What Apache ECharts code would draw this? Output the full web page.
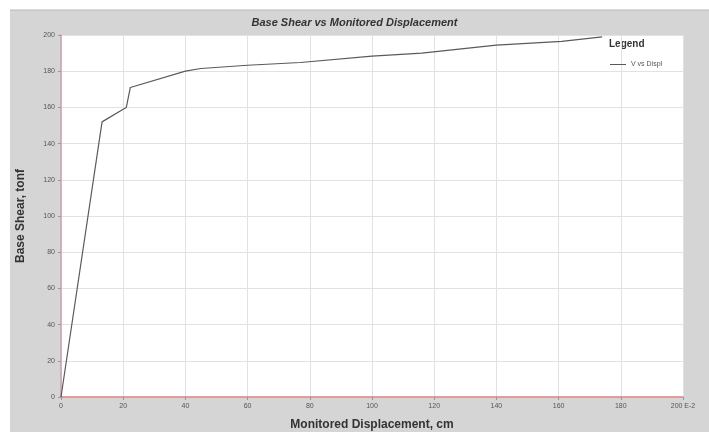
<!DOCTYPE html>
<html>
<head>
<meta charset="utf-8">
<script src="https://cdn.jsdelivr.net/npm/echarts@6/dist/echarts.min.js"></script>
<style>
html,body{margin:0;padding:0;background:#ffffff;}
#c{width:709px;height:432px;}
</style>
</head>
<body>
<div id="c"></div>
<script>
var title = "Base Shear vs Monitored Displacement";
var xName = "Monitored Displacement, cm";
var yName = "Base Shear, tonf";
var seriesName = "V vs Displ";
var displacement = [0, 13.2, 20, 21, 22.3, 40, 45, 60, 77, 77.5, 100, 116, 140, 161, 174];
var baseShear   = [0, 152, 159, 160, 171, 180, 181.5, 183.3, 184.8, 185.8, 188.3, 190, 194.4, 196.5, 199];
var xTicks = [0, 20, 40, 60, 80, 100, 120, 140, 160, 180, 200];
var yTicks = [0, 20, 40, 60, 80, 100, 120, 140, 160, 180, 200];

var pts = displacement.map(function(d, i){ return [d, baseShear[i]]; });

var chart = echarts.init(document.getElementById('c'));
chart.setOption({
  animation: false,
  backgroundColor: '#ffffff',
  graphic: [
    {type:'rect', left:10, top:10, shape:{width:699, height:422}, style:{fill:'#d5d5d5'}, z:-10},
    {type:'line', shape:{x1:10,y1:10,x2:709,y2:10}, style:{stroke:'#b8b8b8', lineWidth:1}, z:-9},
    {type:'rect', left:61, top:35, shape:{width:622, height:362}, style:{fill:'#ffffff'}, z:-8},
    {type:'text', left:609, top:39, style:{text:'Legend', font:'bold 10px Arial, "Liberation Sans", sans-serif', fill:'#333'}}
  ],
  title: {
    text: title, left: 'center', top: 12,
    textStyle: {fontFamily: 'Arial, "Liberation Sans", sans-serif', fontSize: 11, fontWeight: 'bold', fontStyle: 'italic', color: '#333'}
  },
  legend: {
    left: 605, top: 56, itemWidth: 16, itemHeight: 1, icon: 'rect',
    textStyle: {fontSize: 7, color: '#555', fontFamily: 'Arial, sans-serif'},
    itemGap: 4,
    data: [seriesName]
  },
  grid: {left: 61, right: 26, top: 35, bottom: 35, containLabel: false, outerBoundsMode: 'none'},
  xAxis: {
    type: 'value', min: 0, max: 200, interval: 20,
    name: xName, nameLocation: 'middle', nameGap: 22,
    nameTextStyle: {fontFamily: 'Arial, "Liberation Sans", sans-serif', fontSize: 12, fontWeight: 'bold', color: '#333'},
    axisLine: {show: true, lineStyle: {color: '#e07f7f', width: 1.5}},
    axisTick: {show: true, length: 3, lineStyle: {color: '#999'}},
    axisLabel: {fontSize: 7, color: '#555', margin: 6, fontFamily: 'Arial, sans-serif',
      formatter: function(v){ return v === xTicks[xTicks.length-1] ? v + ' E-2' : String(v); }},
    splitLine: {show: true, lineStyle: {color: '#e2e2e2', width: 1}}
  },
  yAxis: {
    type: 'value', min: 0, max: 200, interval: 20,
    name: yName, nameLocation: 'middle', nameGap: 34,
    nameTextStyle: {fontFamily: 'Arial, "Liberation Sans", sans-serif', fontSize: 12, fontWeight: 'bold', color: '#333'},
    axisLine: {show: true, lineStyle: {color: '#c9a3aa', width: 1.5}},
    axisTick: {show: true, length: 3, lineStyle: {color: '#999'}},
    axisLabel: {fontSize: 7, color: '#555', margin: 6, fontFamily: 'Arial, sans-serif'},
    splitLine: {show: true, lineStyle: {color: '#e2e2e2', width: 1}}
  },
  series: [{
    name: seriesName, type: 'line', data: pts, showSymbol: false, symbol: 'none',
    lineStyle: {color: '#5a5a5a', width: 1.2}, itemStyle: {color: '#5a5a5a'}
  }]
});
</script>
</body>
</html>
